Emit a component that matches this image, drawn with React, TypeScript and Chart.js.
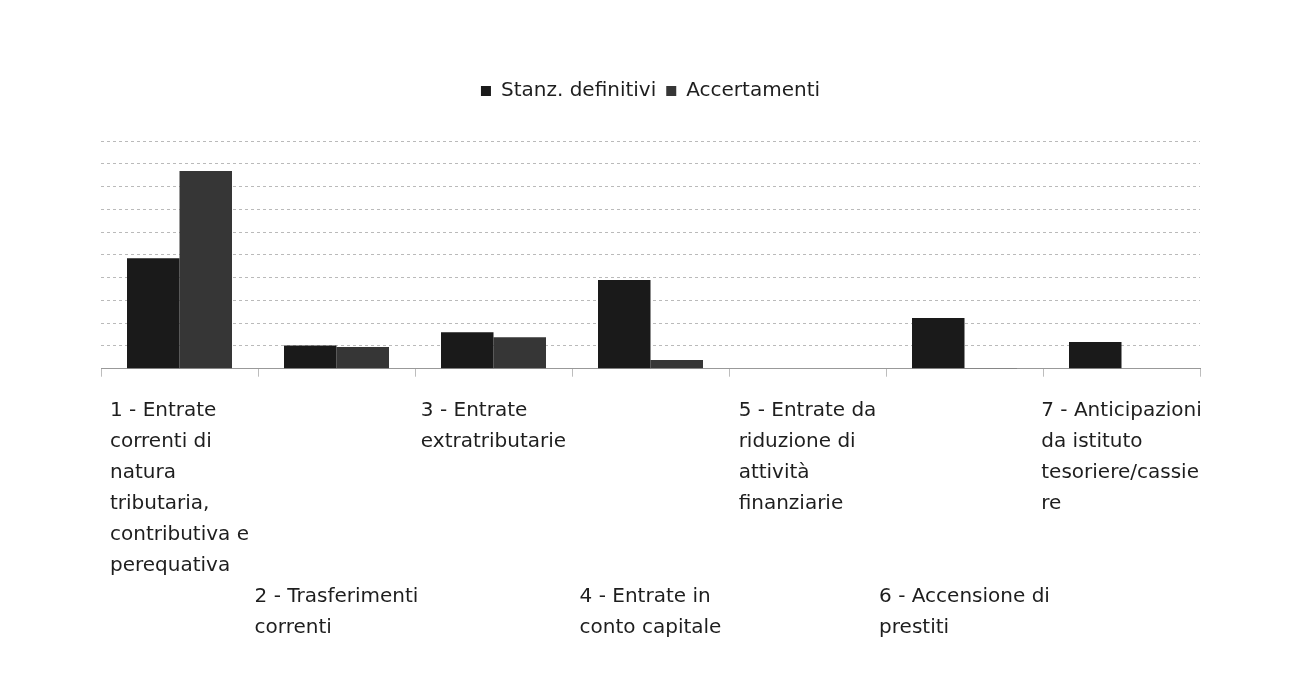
import React, { useEffect, useRef } from "react";
import { Chart, registerables } from "chart.js";

Chart.register(...registerables);

const categoryLines: string[][] = [
  ["1 - Entrate", "correnti di", "natura", "tributaria,", "contributiva e", "perequativa"],
  ["2 - Trasferimenti", "correnti"],
  ["3 - Entrate", "extratributarie"],
  ["4 - Entrate in", "conto capitale"],
  ["5 - Entrate da", "riduzione di", "attività", "finanziarie"],
  ["6 - Accensione di", "prestiti"],
  ["7 - Anticipazioni", "da istituto", "tesoriere/cassie", "re"],
];
const categories = categoryLines.map((l) => l.join(" "));
const seriesNames = ["Stanz. definitivi", "Accertamenti"];
const stanzDefinitivi = [4.85, 1.02, 1.6, 3.9, 0, 2.23, 1.17];
const accertamenti = [8.68, 0.95, 1.38, 0.38, 0, 0.03, 0];
const yMax = 10;

const FONT = '"DejaVu Sans", sans-serif';

const staggerLabels = {
  id: "staggerLabels",
  afterDraw(chart: any) {
    const xs = chart.scales.x;
    const ctx = chart.ctx;
    ctx.save();
    ctx.font = `20px ${FONT}`;
    ctx.fillStyle = "#1e1e1e";
    ctx.textBaseline = "middle";
    ctx.textAlign = "left";
    const lineH = 31;
    const firstY = xs.bottom + 34;
    let maxRow0 = 0;
    categoryLines.forEach((l, i) => {
      if (i % 2 === 0) maxRow0 = Math.max(maxRow0, l.length);
    });
    categoryLines.forEach((lines, i) => {
      const w = Math.max(...lines.map((t) => ctx.measureText(t).width));
      const cx = xs.getPixelForValue(i);
      const left = cx - w / 2;
      const y0 = i % 2 === 0 ? firstY : firstY + maxRow0 * lineH;
      lines.forEach((t, k) => ctx.fillText(t, left, y0 + k * lineH));
    });
    ctx.restore();
  },
};

export default function App() {
  const ref = useRef<HTMLCanvasElement>(null);
  useEffect(() => {
    const chart = new Chart(ref.current!, {
      type: "bar",
      data: {
        labels: categories,
        datasets: [
          { label: seriesNames[0], data: stanzDefinitivi, backgroundColor: "#1a1a1a", borderWidth: 0 },
          { label: seriesNames[1], data: accertamenti, backgroundColor: "#363636", borderWidth: 0 },
        ],
      },
      options: {
        animation: false,
        responsive: false,
        layout: { padding: { left: 101, right: 99, top: 71, bottom: 312.3 } },
        datasets: { bar: { categoryPercentage: 105 / 157, barPercentage: 1 } },
        plugins: {
          legend: {
            display: true,
            position: "top",
            weight: 1000,
            labels: {
              boxWidth: 10,
              boxHeight: 10,
              padding: 10,
              color: "#1e1e1e",
              font: { family: FONT, size: 20 },
            },
          },
          title: {
            display: true,
            text: " ",
            weight: 500,
            color: "rgba(0,0,0,0)",
            font: { size: 10 },
            padding: { top: 0, bottom: 18 },
          },
          tooltip: { enabled: false },
        },
        scales: {
          x: {
            ticks: { display: false },
            grid: {
              display: true,
              drawOnChartArea: false,
              drawTicks: true,
              tickLength: 8,
              color: "#bdbdbd",
            },
            border: { display: true, color: "#999999", width: 1 },
          },
          y: {
            min: 0,
            max: yMax,
            ticks: { display: false, stepSize: 1 },
            grid: { drawTicks: false, color: "#bababa", lineWidth: 1 },
            border: { display: false, dash: [3, 3] },
          },
        },
      },
      plugins: [staggerLabels],
    });
    return () => chart.destroy();
  }, []);
  return (
    <div style={{ position: "fixed", left: 0, top: 0, width: 1299, height: 689, background: "#fff" }}>
      <canvas ref={ref} width={1299} height={689} />
    </div>
  );
}
